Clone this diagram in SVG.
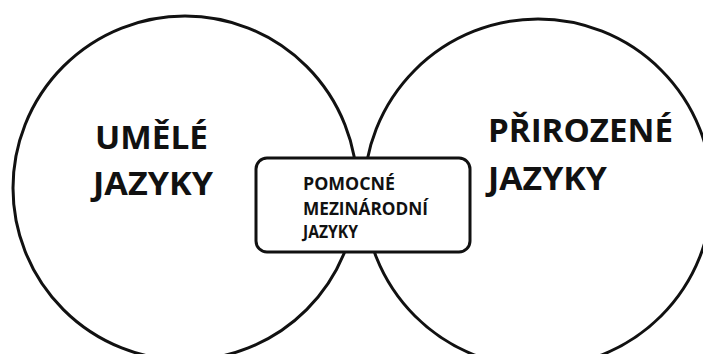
<svg xmlns="http://www.w3.org/2000/svg" width="703" height="354" viewBox="0 0 703 354">
  <style>
    .ring { fill: none; stroke: #111; stroke-width: 3; }
    .box { fill: #fff; stroke: #111; stroke-width: 3; }
    .big { font-family: "Open Sans", "Liberation Sans", sans-serif; font-weight: 700; font-size: 33px; fill: #111; }
    .small { font-family: "Open Sans", "Liberation Sans", sans-serif; font-weight: 700; font-size: 17px; fill: #111; }
  </style>
  <rect width="703" height="354" fill="#fff"/>
  <g id="umele">
    <circle class="ring" cx="185" cy="188" r="172"/>
    <text class="big" x="95" y="149" textLength="113" lengthAdjust="spacingAndGlyphs">UMĚLÉ</text>
    <text class="big" x="93" y="195" textLength="120" lengthAdjust="spacingAndGlyphs">JAZYKY</text>
  </g>
  <g id="prirozene">
    <circle class="ring" cx="538" cy="193" r="174"/>
    <text class="big" x="488" y="142" textLength="185" lengthAdjust="spacingAndGlyphs">PŘIROZENÉ</text>
    <text class="big" x="488" y="190" textLength="119" lengthAdjust="spacingAndGlyphs">JAZYKY</text>
  </g>
  <g id="pomocne">
    <rect class="box" x="256" y="158" width="214" height="94" rx="11"/>
    <text class="small" x="303" y="190" textLength="92" lengthAdjust="spacingAndGlyphs">POMOCNÉ</text>
    <text class="small" x="303" y="215" textLength="125" lengthAdjust="spacingAndGlyphs">MEZINÁRODNÍ</text>
    <text class="small" x="303" y="238" textLength="55" lengthAdjust="spacingAndGlyphs">JAZYKY</text>
  </g>
  <g id="connectors"/>
</svg>
